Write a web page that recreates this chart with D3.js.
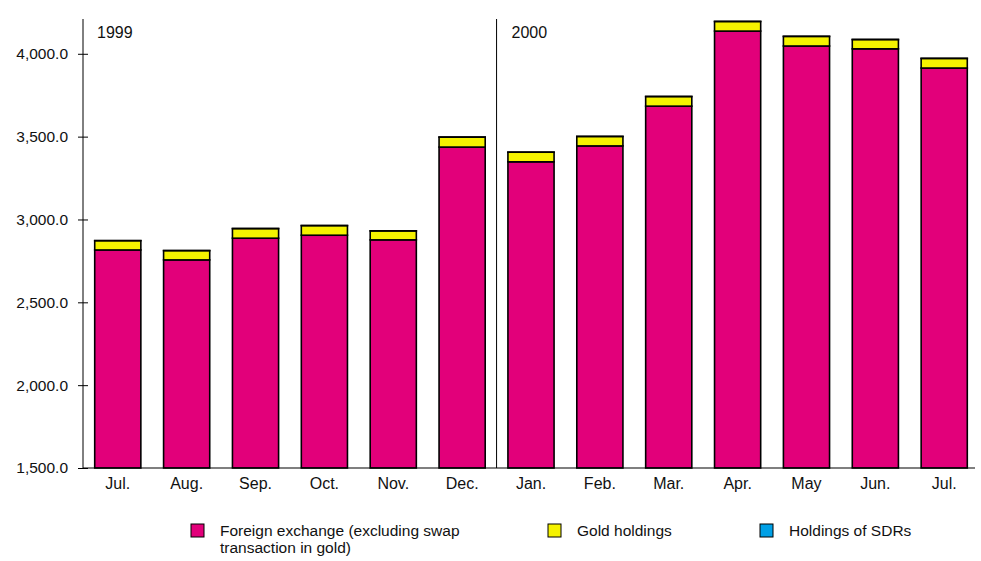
<!DOCTYPE html>
<html>
<head>
<meta charset="utf-8">
<script src="https://cdn.jsdelivr.net/npm/d3@7"></script>
<style>
  body { margin: 0; background: #fff; }
  svg { display: block; font-family: "Liberation Sans", Arial, sans-serif; }
</style>
</head>
<body>
<svg></svg>
<script>
const width = 981
const height = 561

// months Jul. 1999 - Jul. 2000
const months = ["Jul.", "Aug.", "Sep.", "Oct.", "Nov.", "Dec.", "Jan.", "Feb.", "Mar.", "Apr.", "May", "Jun.", "Jul. "]
const foreignExchange = [2816, 2756, 2887, 2905, 2877, 3437, 3348, 3444, 3684, 4137, 4047, 4030, 3914]
const gold = [56, 56, 58, 58, 54, 60, 58, 57, 58, 58, 58, 56, 58]
const sdrs = [0.5, 0.5, 0.5, 0.5, 0.5, 0.5, 0.5, 0.5, 0.5, 0.5, 0.5, 0.5, 0.5]
const yTicks = [1500, 2000, 2500, 3000, 3500, 4000]
const yearLabels = ["1999", "2000"]

const seriesNames = ["Foreign exchange (excluding swap transaction in gold)", "Gold holdings", "Holdings of SDRs"]
const seriesColors = ["#e2007a", "#f5f200", "#00a0e6"]

draw()

function draw() {
  const svg = d3.select("svg")
    .attr("width", width)
    .attr("height", height)

  const x = d3.scaleBand()
    .domain(months)
    .range([83, 979])
    .paddingInner(0.33)
    .paddingOuter(0.17)

  const y = d3.scaleLinear()
    .domain([1500, 4210])
    .range([468, 19])

  const rows = months.map((m, i) => ({ month: m, fx: foreignExchange[i], gold: gold[i], sdr: sdrs[i] }))
  const stack = d3.stack().keys(["fx", "gold", "sdr"])(rows)

  // bars
  const layers = svg.append("g")
    .selectAll("g")
    .data(stack)
    .enter()
    .append("g")
    .attr("fill", (d, i) => seriesColors[i])
    .attr("stroke", "#000")
    .attr("stroke-width", 1.6)

  layers.selectAll("rect")
    .data(d => d)
    .enter()
    .append("rect")
    .attr("x", d => x(d.data.month))
    .attr("width", x.bandwidth())
    .attr("y", d => y(d[1]))
    .attr("height", d => y(Math.max(d[0], 1500)) - y(d[1]))

  // year divider
  const divX = x("Jan.") - (x.step() - x.bandwidth()) / 2
  svg.append("line")
    .attr("x1", divX).attr("x2", divX)
    .attr("y1", y(4210)).attr("y2", y(1500))
    .attr("stroke", "#000")
    .attr("stroke-width", 1)

  svg.selectAll(".year")
    .data(yearLabels)
    .enter()
    .append("text")
    .attr("class", "year")
    .attr("x", d => (d == "1999" ? 83 + 14 : divX + 15))
    .attr("y", 38)
    .attr("font-size", 16)
    .attr("fill", "#111")
    .text(d => d)

  // y axis
  const yAxis = svg.append("g")
    .attr("transform", "translate(83,0)")
    .call(d3.axisLeft(y).tickValues(yTicks).tickSize(5).tickFormat(d3.format(",.1f")))
  yAxis.select(".domain").remove()
  yAxis.append("line")
    .attr("y1", y(4210)).attr("y2", y(1500))
    .attr("stroke", "#000")
  yAxis.selectAll(".tick line").attr("x1", 5).attr("x2", -5)
  yAxis.selectAll(".tick text")
    .attr("x", -15)
    .attr("font-size", 15.5)
    .attr("fill", "#111")
    .attr("font-family", "Liberation Sans, Arial, sans-serif")

  // x axis
  const xAxis = svg.append("g")
    .attr("transform", "translate(0," + y(1500) + ")")
    .call(d3.axisBottom(x).tickSize(0).tickPadding(10))
  xAxis.select(".domain")
    .attr("d", "M83,0H975")
    .attr("stroke", "#000")
    .attr("stroke-width", 1.2)
  xAxis.selectAll(".tick text")
    .attr("font-size", 16)
    .attr("fill", "#111")
    .attr("font-family", "Liberation Sans, Arial, sans-serif")

  // legend
  const legendX = [191, 548, 760]
  const legend = svg.append("g")
  const item = legend.selectAll("g")
    .data(seriesNames)
    .enter()
    .append("g")
    .attr("transform", (d, i) => "translate(" + legendX[i] + ",524)")
  item.append("rect")
    .attr("width", 13)
    .attr("height", 13)
    .attr("fill", (d, i) => seriesColors[i])
    .attr("stroke", "#000")
    .attr("stroke-width", 1)
  item.append("text")
    .attr("x", 29)
    .attr("y", 12)
    .attr("font-size", 15.5)
    .attr("fill", "#111")
    .each(function (d) {
      const t = d3.select(this)
      const lines = d.startsWith("Foreign") ? ["Foreign exchange (excluding swap", "transaction in gold)"] : [d]
      lines.forEach((l, j) => {
        t.append("tspan").attr("x", 29).attr("dy", j == 0 ? 0 : 17).text(l)
      })
    })
}
</script>
</body>
</html>
